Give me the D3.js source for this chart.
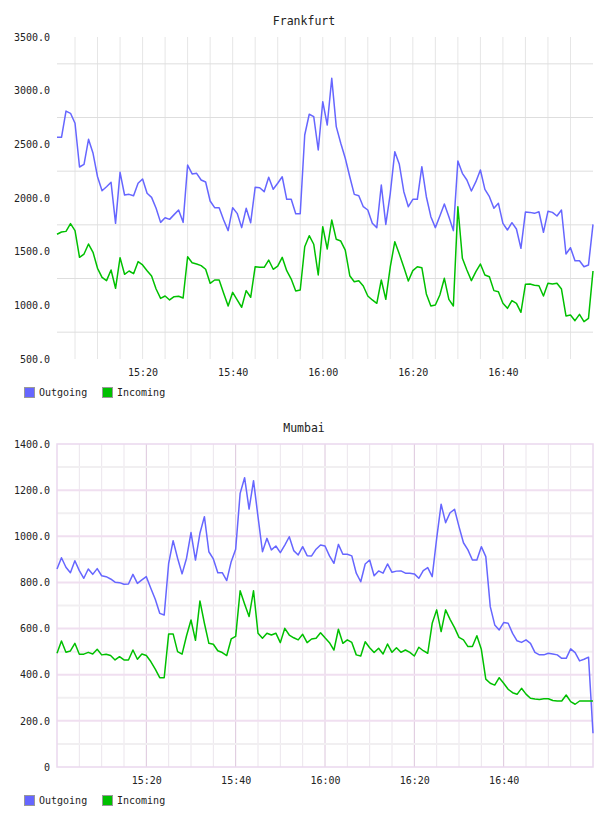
<!DOCTYPE html>
<html>
<head>
<meta charset="utf-8">
<script src="https://cdn.jsdelivr.net/npm/d3@7"></script>
<style>
  body { margin: 0; background: #fff; }
  text { font-family: "DejaVu Sans Mono", monospace; fill: #222; }
</style>
</head>
<body>
<script>
// Frankfurt: one point a minute from 15:01
const frankfurtStart = "15:01";
const frankfurtOut = [
  2565, 2565, 2810, 2789, 2696, 2289, 2314, 2547, 2416, 2198,
  2068, 2105, 2146, 1764, 2239, 2028, 2034, 2021, 2137, 2177,
  2044, 2006, 1904, 1773, 1816, 1801, 1845, 1888, 1773, 2307,
  2224, 2230, 2168, 2149, 1972, 1910, 1910, 1795, 1696, 1910,
  1857, 1724, 1904, 1770, 2100, 2096, 2059, 2193, 2081, 2137,
  2198, 1988, 1988, 1854, 1854, 2587, 2780, 2758, 2447, 2897,
  2680, 3115, 2665, 2510, 2370, 2198, 2034, 2021, 1919, 1888,
  1764, 1724, 2121, 1754, 2044, 2432, 2314, 2059, 1919, 1988,
  1988, 2292, 2012, 1826, 1724, 1832, 1944, 1826, 1696, 2345,
  2230, 2168, 2065, 2152, 2261, 2081, 2012, 1904, 1950, 1764,
  1702, 1770, 1711, 1531, 1869, 1866, 1857, 1872, 1680, 1876,
  1866, 1832, 1888, 1478, 1537, 1416, 1416, 1360, 1376, 1754
];
const frankfurtIn = [
  1662, 1683, 1689, 1761, 1696, 1447, 1478, 1571, 1494, 1345,
  1261, 1230, 1329, 1159, 1444, 1289, 1320, 1295, 1407, 1376,
  1323, 1273, 1152, 1065, 1087, 1050, 1081, 1084, 1068, 1453,
  1397, 1385, 1370, 1336, 1205, 1236, 1236, 1112, 994, 1121,
  1050, 982, 1137, 1075, 1360, 1354, 1354, 1422, 1336, 1366,
  1447, 1323, 1245, 1134, 1143, 1546, 1649, 1569, 1283, 1733,
  1525, 1795, 1615, 1599, 1515, 1276, 1220, 1230, 1180, 1087,
  1050, 1019, 1236, 1056, 1360, 1593, 1478, 1354, 1227, 1323,
  1360, 1351, 1106, 994, 1003, 1096, 1252, 1056, 994, 1919,
  1438, 1329, 1230, 1314, 1385, 1283, 1267, 1137, 1127, 1019,
  972, 1044, 1019, 935, 1196, 1199, 1187, 1183, 1087, 1205,
  1199, 1205, 1152, 901, 910, 857, 916, 848, 879, 1320
];
const frankfurtTicks = [3500, 3000, 2500, 2000, 1500, 1000, 500];

// Mumbai: one point a minute from 15:00
const mumbaiStart = "15:00";
const mumbaiOut = [
  858, 907, 866, 842, 894, 851, 818, 858, 835, 860,
  829, 825, 815, 801, 799, 792, 793, 835, 796, 811,
  825, 775, 727, 666, 659, 883, 981, 905, 837, 905,
  1016, 897, 1013, 1085, 933, 902, 842, 842, 808, 890,
  944, 1186, 1254, 1118, 1241, 1085, 933, 991, 941, 958,
  929, 962, 998, 938, 919, 955, 916, 915, 944, 962,
  958, 915, 883, 965, 922, 922, 915, 840, 803, 880,
  897, 829, 850, 840, 880, 844, 849, 850, 840, 840,
  837, 818, 851, 864, 825, 991, 1139, 1059, 1102, 1117,
  1042, 972, 941, 897, 897, 955, 912, 695, 616, 594,
  626, 623, 579, 547, 540, 551, 536, 497, 486, 486,
  493, 490, 486, 471, 471, 512, 496, 460, 467, 476,
  146
];
const mumbaiIn = [
  493, 546, 497, 503, 536, 489, 489, 497, 490, 510,
  486, 489, 483, 464, 478, 464, 464, 507, 467, 490,
  483, 457, 424, 387, 387, 577, 577, 500, 489, 569,
  637, 549, 720, 623, 536, 532, 504, 496, 483, 555,
  566, 764, 707, 652, 764, 580, 558, 580, 572, 580,
  539, 601, 572, 560, 551, 575, 539, 555, 558, 582,
  560, 539, 507, 597, 536, 551, 540, 486, 481, 543,
  517, 496, 515, 490, 533, 497, 517, 497, 507, 497,
  481, 519, 504, 493, 623, 681, 587, 681, 640, 604,
  562, 551, 522, 522, 569, 510, 381, 363, 355, 387,
  363, 337, 322, 315, 341, 316, 298, 295, 293, 296,
  296, 288, 286, 286, 312, 283, 272, 286, 286, 286,
  286
];
const mumbaiTicks = [1400, 1200, 1000, 800, 600, 400, 200, 0];

const timeLabels = ["15:20", "15:40", "16:00", "16:20", "16:40"];
const seriesNames = ["Outgoing", "Incoming"];
const seriesColors = ["#6666ff", "#00c000"];

const W = 608, H = 816;
const parseTime = d3.timeParse("%H:%M");
const svg = d3.select("body").append("svg")
  .attr("width", W)
  .attr("height", H);

function drawChart(o) {
  const left = 57, right = 593;
  const start = parseTime(o.start);
  const toPoints = vals => vals.map((v, i) => ({ t: d3.timeMinute.offset(start, i), v: v }));
  const outPts = toPoints(o.out), inPts = toPoints(o.inc);

  const x = d3.scaleTime()
    .domain([start, outPts[outPts.length - 1].t])
    .range([left, right]);
  const y = d3.scaleLinear()
    .domain([d3.min(o.ticks), d3.max(o.ticks)])
    .range([o.bottom, o.top]);

  const g = svg.append("g");

  // title
  g.append("text")
    .attr("x", W / 2)
    .attr("y", o.top - 16)
    .attr("dy", "0.35em")
    .attr("text-anchor", "middle")
    .style("font-size", "11.5px")
    .text(o.title);

  // vertical grid every 5 minutes
  const grid5 = x.ticks(d3.timeMinute.every(5)).filter(t => x(t) > left + 1 && x(t) < right - 1);
  g.append("g").selectAll("line")
    .data(grid5)
    .enter().append("line")
    .attr("x1", d => x(d)).attr("x2", d => x(d))
    .attr("y1", o.top).attr("y2", o.bottom)
    .attr("stroke", d => o.boxed && d.getMinutes() % 20 === 0 ? "#dcc6dc" : (o.boxed ? "#ebe5ec" : "#e6e6e6"))
    .attr("stroke-width", 1);

  // horizontal grid
  g.append("g").selectAll("line")
    .data(o.hgrid)
    .enter().append("line")
    .attr("x1", left).attr("x2", right)
    .attr("y1", d => y(d)).attr("y2", d => y(d))
    .attr("stroke", d => o.boxed ? (o.ticks.includes(d) ? "#f0dff0" : "#f1eff1") : "#dedede")
    .attr("stroke-width", d => o.boxed ? 2 : 1);

  if (o.boxed) {
    g.append("rect")
      .attr("x", left).attr("y", o.top)
      .attr("width", right - left).attr("height", o.bottom - o.top)
      .attr("fill", "none")
      .attr("stroke", "#ead8ee")
      .attr("stroke-width", 1.5);
  }

  // axes
  const yAxis = g.append("g")
    .attr("transform", "translate(" + left + ",0)")
    .call(d3.axisLeft(y).tickValues(o.ticks).tickSize(0).tickPadding(7)
      .tickFormat(d => d === 0 ? "0" : d3.format(".1f")(d)));
  yAxis.select(".domain").remove();

  const xAxis = g.append("g")
    .attr("transform", "translate(0," + o.bottom + ")")
    .call(d3.axisBottom(x).tickValues(timeLabels.map(parseTime)).tickSize(0).tickPadding(10)
      .tickFormat(d3.timeFormat("%H:%M")));
  xAxis.select(".domain").remove();

  g.selectAll(".tick text")
    .style("font-family", "'DejaVu Sans Mono', monospace")
    .style("font-size", "10px")
    .attr("fill", "#222");

  // lines
  const line = d3.line()
    .x(d => x(d.t))
    .y(d => y(d.v));

  [outPts, inPts].forEach((pts, k) => {
    g.append("path")
      .datum(pts)
      .attr("fill", "none")
      .attr("stroke", seriesColors[k])
      .attr("stroke-width", 1.5)
      .attr("stroke-linejoin", "round")
      .attr("d", line);
  });

  // legend
  const leg = g.append("g").attr("transform", "translate(0," + o.legendY + ")");
  const legX = [24, 102];
  seriesNames.forEach((name, k) => {
    leg.append("rect")
      .attr("x", legX[k] + 0.5).attr("y", -4.5)
      .attr("width", 10).attr("height", 10)
      .attr("fill", seriesColors[k])
      .attr("stroke", "#999");
    leg.append("text")
      .attr("x", legX[k] + 15)
      .attr("y", 0)
      .attr("dy", "0.35em")
      .style("font-size", "10px")
      .text(name);
  });
}

drawChart({
  title: "Frankfurt", start: frankfurtStart,
  out: frankfurtOut, inc: frankfurtIn,
  ticks: frankfurtTicks,
  hgrid: [3250, 2750, 2250, 1750, 1250, 750],
  top: 37, bottom: 359, legendY: 392, boxed: false
});

drawChart({
  title: "Mumbai", start: mumbaiStart,
  out: mumbaiOut, inc: mumbaiIn,
  ticks: mumbaiTicks,
  hgrid: [1300, 1200, 1100, 1000, 900, 800, 700, 600, 500, 400, 300, 200, 100],
  top: 444, bottom: 767, legendY: 800, boxed: true
});
</script>
</body>
</html>
